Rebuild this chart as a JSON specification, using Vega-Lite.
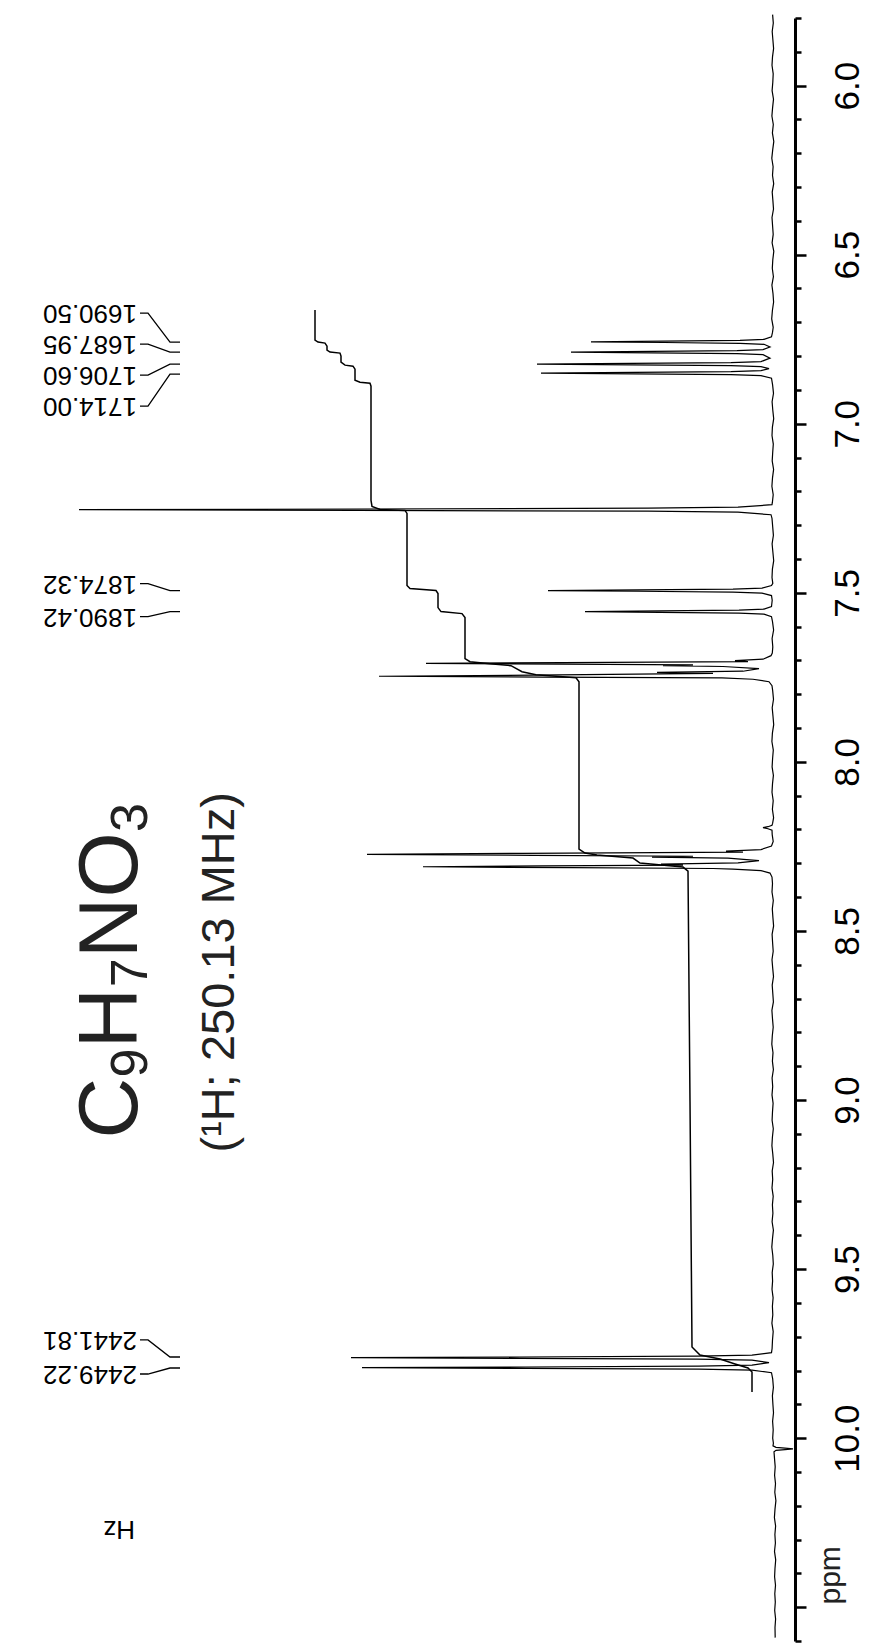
{
"$schema": "https://vega.github.io/schema/vega-lite/v6.json",
"width": 795, "height": 1623,
"autosize": {"type": "none"},
"padding": {"left": 0, "top": 18, "right": 76, "bottom": 2},
"background": "white",
"config": {"view": {"stroke": null}, "font": "Liberation Sans"},
"datasets": {
"spec": [
{"p":5.790,"i":0.4},{"p":5.815,"i":-0.3},{"p":5.840,"i":0.8},{"p":5.865,"i":0.1},{"p":5.890,"i":-0.6},{"p":5.915,"i":0.5},{"p":5.940,"i":1.0},{"p":5.965,"i":-0.2},{"p":5.990,"i":0.2},{"p":6.015,"i":0.9},{"p":6.040,"i":-0.5},{"p":6.065,"i":0.4},{"p":6.090,"i":1.1},{"p":6.115,"i":-0.3},{"p":6.140,"i":0.6},{"p":6.165,"i":-0.8},{"p":6.190,"i":0.3},{"p":6.215,"i":1.2},{"p":6.240,"i":-0.1},{"p":6.265,"i":0.5},{"p":6.290,"i":-0.7},{"p":6.315,"i":0.8},{"p":6.340,"i":0.1},{"p":6.365,"i":-0.5},{"p":6.390,"i":1.0},{"p":6.415,"i":0.4},{"p":6.440,"i":-0.2},{"p":6.465,"i":0.9},{"p":6.490,"i":-0.8},{"p":6.515,"i":0.2},{"p":6.540,"i":0.7},{"p":6.565,"i":-0.4},{"p":6.590,"i":1.1},{"p":6.615,"i":0.0},{"p":6.640,"i":-0.6},{"p":6.665,"i":0.6},{"p":6.690,"i":1.3},{"p":6.715,"i":-0.2},{"p":6.730,"i":0.5},
{"p":6.7428,"i":1.5},{"p":6.7502,"i":9},{"p":6.7532,"i":33},{"p":6.7555,"i":109},{"p":6.7576,"i":182},{"p":6.7597,"i":109},{"p":6.7620,"i":33},{"p":6.7650,"i":9},{"p":6.7729,"i":3},
{"p":6.7807,"i":10},{"p":6.7837,"i":36},{"p":6.7860,"i":121},{"p":6.7881,"i":202},{"p":6.7902,"i":121},{"p":6.7925,"i":36},{"p":6.7955,"i":10},{"p":6.8059,"i":3},
{"p":6.8163,"i":12},{"p":6.8193,"i":42},{"p":6.8216,"i":142},{"p":6.8237,"i":236},{"p":6.8258,"i":142},{"p":6.8281,"i":42},{"p":6.8311,"i":12},{"p":6.8370,"i":4},
{"p":6.8430,"i":12},{"p":6.8460,"i":42},{"p":6.8483,"i":139},{"p":6.8504,"i":232},{"p":6.8525,"i":139},{"p":6.8548,"i":42},{"p":6.8578,"i":12},{"p":6.8652,"i":1.5},
{"p":6.885,"i":0.4},{"p":6.910,"i":-0.5},{"p":6.935,"i":0.9},{"p":6.960,"i":0.2},{"p":6.985,"i":-0.7},{"p":7.010,"i":0.6},{"p":7.035,"i":1.0},{"p":7.060,"i":-0.3},{"p":7.085,"i":0.3},{"p":7.110,"i":0.8},{"p":7.135,"i":-0.6},{"p":7.160,"i":0.5},{"p":7.185,"i":1.1},{"p":7.210,"i":-0.2},{"p":7.232,"i":0.6},
{"p":7.2394,"i":1},{"p":7.2468,"i":35},{"p":7.2498,"i":125},{"p":7.2521,"i":416},{"p":7.2542,"i":694},{"p":7.2563,"i":416},{"p":7.2586,"i":125},{"p":7.2616,"i":35},{"p":7.2690,"i":2},
{"p":7.280,"i":1.0},{"p":7.305,"i":0.3},{"p":7.330,"i":-0.4},{"p":7.355,"i":0.9},{"p":7.380,"i":0.1},{"p":7.405,"i":-0.7},{"p":7.430,"i":0.6},{"p":7.455,"i":1.0},{"p":7.472,"i":0.2},
{"p":7.4785,"i":1.5},{"p":7.4859,"i":11},{"p":7.4889,"i":40},{"p":7.4912,"i":135},{"p":7.4933,"i":225},{"p":7.4954,"i":135},{"p":7.4977,"i":40},{"p":7.5007,"i":11},{"p":7.5081,"i":1.5},
{"p":7.522,"i":0.8},
{"p":7.5408,"i":1.5},{"p":7.5482,"i":9},{"p":7.5512,"i":34},{"p":7.5535,"i":113},{"p":7.5556,"i":188},{"p":7.5577,"i":113},{"p":7.5600,"i":34},{"p":7.5630,"i":9},{"p":7.5704,"i":1.5},
{"p":7.585,"i":0.5},{"p":7.610,"i":-0.6},{"p":7.635,"i":0.9},{"p":7.660,"i":0.2},{"p":7.678,"i":0.7},
{"p":7.6859,"i":2},{"p":7.6963,"i":10},{"p":7.7007,"i":38},{"p":7.7037,"i":25},{"p":7.7067,"i":210},{"p":7.7087,"i":347},{"p":7.7108,"i":210},{"p":7.7132,"i":80},{"p":7.7156,"i":110},{"p":7.7179,"i":50},{"p":7.7244,"i":14},{"p":7.7319,"i":30},{"p":7.7351,"i":116},{"p":7.7381,"i":60},{"p":7.7437,"i":240},{"p":7.7467,"i":394},{"p":7.7493,"i":230},{"p":7.7517,"i":51},{"p":7.7556,"i":20},{"p":7.7630,"i":4},{"p":7.7748,"i":1},
{"p":7.790,"i":0.3},{"p":7.815,"i":-0.5},{"p":7.840,"i":0.8},{"p":7.865,"i":0.0},{"p":7.890,"i":-0.7},{"p":7.915,"i":0.6},{"p":7.940,"i":1.1},{"p":7.965,"i":-0.3},{"p":7.990,"i":0.4},{"p":8.015,"i":0.9},{"p":8.040,"i":-0.4},{"p":8.065,"i":0.5},{"p":8.090,"i":1.0},{"p":8.115,"i":-0.2},{"p":8.140,"i":0.6},{"p":8.165,"i":-0.6},{"p":8.182,"i":0.4},
{"p":8.1873,"i":1},{"p":8.1917,"i":5},{"p":8.1947,"i":10},{"p":8.1977,"i":5},{"p":8.2021,"i":1},
{"p":8.215,"i":0.8},{"p":8.235,"i":-0.2},
{"p":8.2489,"i":1.5},{"p":8.2593,"i":12},{"p":8.2637,"i":47},{"p":8.2667,"i":30},{"p":8.2705,"i":250},{"p":8.2735,"i":406},{"p":8.2764,"i":240},{"p":8.2791,"i":80},{"p":8.2815,"i":121},{"p":8.2844,"i":45},{"p":8.2919,"i":14},{"p":8.2987,"i":35},{"p":8.3022,"i":112},{"p":8.3052,"i":90},{"p":8.3076,"i":230},{"p":8.3102,"i":350},{"p":8.3129,"i":200},{"p":8.3153,"i":60},{"p":8.3170,"i":40},{"p":8.3215,"i":12},{"p":8.3289,"i":3},{"p":8.3407,"i":1},
{"p":8.360,"i":0.5},{"p":8.385,"i":1.0},{"p":8.410,"i":-0.3},{"p":8.435,"i":0.7},{"p":8.460,"i":0.1},{"p":8.485,"i":-0.6},{"p":8.510,"i":0.9},{"p":8.535,"i":0.4},{"p":8.560,"i":-0.2},{"p":8.585,"i":1.0},{"p":8.610,"i":0.3},{"p":8.635,"i":-0.5},{"p":8.660,"i":0.8},{"p":8.685,"i":0.2},{"p":8.710,"i":-0.4},{"p":8.735,"i":1.1},{"p":8.760,"i":0.5},{"p":8.785,"i":-0.2},{"p":8.810,"i":0.7},{"p":8.835,"i":1.2},{"p":8.860,"i":0.0},{"p":8.885,"i":0.6},{"p":8.910,"i":-0.4},{"p":8.935,"i":0.9},{"p":8.960,"i":0.3},{"p":8.985,"i":1.0},{"p":9.010,"i":-0.1},{"p":9.035,"i":0.5},{"p":9.060,"i":0.9},{"p":9.085,"i":-0.3},{"p":9.110,"i":0.6},{"p":9.135,"i":1.1},{"p":9.160,"i":0.2},{"p":9.185,"i":-0.5},{"p":9.210,"i":0.8},{"p":9.235,"i":0.3},{"p":9.260,"i":1.0},{"p":9.285,"i":-0.2},{"p":9.310,"i":0.6},{"p":9.335,"i":0.1},{"p":9.360,"i":0.9},{"p":9.385,"i":-0.4},{"p":9.410,"i":0.5},{"p":9.435,"i":1.2},{"p":9.460,"i":0.2},{"p":9.485,"i":-0.3},{"p":9.510,"i":0.8},{"p":9.535,"i":0.4},{"p":9.560,"i":1.0},{"p":9.585,"i":-0.1},{"p":9.610,"i":0.6},{"p":9.635,"i":0.2},{"p":9.660,"i":1.1},{"p":9.685,"i":-0.2},{"p":9.710,"i":0.5},{"p":9.735,"i":0.9},
{"p":9.7473,"i":1.5},{"p":9.7547,"i":21},{"p":9.7577,"i":76},{"p":9.7600,"i":253},{"p":9.7621,"i":422},{"p":9.7642,"i":253},{"p":9.7665,"i":76},{"p":9.7695,"i":21},{"p":9.7769,"i":4},{"p":9.7843,"i":21},{"p":9.7873,"i":74},{"p":9.7896,"i":247},{"p":9.7917,"i":411},{"p":9.7938,"i":247},{"p":9.7961,"i":74},{"p":9.7991,"i":21},{"p":9.8065,"i":1.5},
{"p":9.825,"i":0.3},{"p":9.850,"i":-0.4},{"p":9.875,"i":0.6},{"p":9.900,"i":0.1},{"p":9.925,"i":-0.5},{"p":9.950,"i":0.4},{"p":9.975,"i":-0.2},{"p":10.000,"i":0.3},{"p":10.015,"i":-0.4},
{"p":10.0229,"i":0},{"p":10.0273,"i":-3},{"p":10.0296,"i":-12},{"p":10.0317,"i":-20},{"p":10.0338,"i":-12},{"p":10.0361,"i":-3},{"p":10.0405,"i":-1},
{"p":10.060,"i":-1.5},{"p":10.085,"i":-2.2},{"p":10.110,"i":-1.6},{"p":10.135,"i":-2.5},{"p":10.160,"i":-1.8},{"p":10.185,"i":-2.9},{"p":10.210,"i":-2.0},{"p":10.235,"i":-1.4},{"p":10.260,"i":-2.6},{"p":10.285,"i":-1.9},{"p":10.310,"i":-2.4},{"p":10.335,"i":-1.5},{"p":10.360,"i":-2.7},{"p":10.385,"i":-2.0},{"p":10.410,"i":-1.6},{"p":10.435,"i":-2.5},{"p":10.460,"i":-1.8},{"p":10.485,"i":-2.3},{"p":10.510,"i":-1.7},{"p":10.535,"i":-2.6},{"p":10.560,"i":-2.0},{"p":10.590,"i":-2.2}
],
"integ": [
{"p":6.6637,"i":458},{"p":6.7526,"i":458},{"p":6.7585,"i":455},{"p":6.7615,"i":448},{"p":6.7704,"i":446},{"p":6.7822,"i":446},{"p":6.7881,"i":443},{"p":6.7911,"i":433},{"p":6.8000,"i":432},{"p":6.8178,"i":432},{"p":6.8267,"i":428},{"p":6.8296,"i":420},{"p":6.8385,"i":418},{"p":6.8711,"i":418},{"p":6.8770,"i":413},{"p":6.8800,"i":403},{"p":6.8889,"i":402},{"p":7.2267,"i":402},{"p":7.2444,"i":401},{"p":7.2533,"i":393},{"p":7.2563,"i":368},{"p":7.2652,"i":366},{"p":7.4785,"i":366},{"p":7.4874,"i":363},{"p":7.4933,"i":337},{"p":7.5022,"i":335},{"p":7.5437,"i":335},{"p":7.5556,"i":332},{"p":7.5615,"i":311},{"p":7.5733,"i":308},{"p":7.6948,"i":308},{"p":7.7037,"i":303},{"p":7.7096,"i":283},{"p":7.7156,"i":262},{"p":7.7333,"i":251},{"p":7.7422,"i":237},{"p":7.7511,"i":197},{"p":7.7630,"i":194},{"p":8.2578,"i":194},{"p":8.2696,"i":188},{"p":8.2756,"i":176},{"p":8.2844,"i":140},{"p":8.2993,"i":133},{"p":8.3111,"i":90},{"p":8.3230,"i":85},{"p":9.0044,"i":83},{"p":9.7304,"i":81},{"p":9.7541,"i":73},{"p":9.7659,"i":53},{"p":9.7807,"i":38},{"p":9.7926,"i":25},{"p":9.8044,"i":21},{"p":9.8637,"i":21}
],
"lead": [
{"g":1,"k":1,"i":633,"p":6.6726},{"g":1,"k":2,"i":625,"p":6.6726},{"g":1,"k":3,"i":603,"p":6.7585},{"g":1,"k":4,"i":593,"p":6.7585},
{"g":2,"k":1,"i":633,"p":6.7644},{"g":2,"k":2,"i":625,"p":6.7644},{"g":2,"k":3,"i":603,"p":6.7881},{"g":2,"k":4,"i":593,"p":6.7881},
{"g":3,"k":1,"i":633,"p":6.8563},{"g":3,"k":2,"i":625,"p":6.8563},{"g":3,"k":3,"i":603,"p":6.8237},{"g":3,"k":4,"i":593,"p":6.8237},
{"g":4,"k":1,"i":633,"p":6.9481},{"g":4,"k":2,"i":625,"p":6.9481},{"g":4,"k":3,"i":603,"p":6.8533},{"g":4,"k":4,"i":593,"p":6.8533},
{"g":5,"k":1,"i":633,"p":7.4726},{"g":5,"k":2,"i":625,"p":7.4726},{"g":5,"k":3,"i":603,"p":7.4933},{"g":5,"k":4,"i":593,"p":7.4933},
{"g":6,"k":1,"i":633,"p":7.5704},{"g":6,"k":2,"i":625,"p":7.5704},{"g":6,"k":3,"i":603,"p":7.5556},{"g":6,"k":4,"i":593,"p":7.5556},
{"g":7,"k":1,"i":633,"p":9.7096},{"g":7,"k":2,"i":625,"p":9.7096},{"g":7,"k":3,"i":603,"p":9.7600},{"g":7,"k":4,"i":593,"p":9.7600},
{"g":8,"k":1,"i":633,"p":9.8104},{"g":8,"k":2,"i":625,"p":9.8104},{"g":8,"k":3,"i":603,"p":9.7926},{"g":8,"k":4,"i":593,"p":9.7926}
],
"hz": [
{"t":"1690.50","i":636,"p":6.6726},{"t":"1687.95","i":636,"p":6.7644},{"t":"1706.60","i":636,"p":6.8563},{"t":"1714.00","i":636,"p":6.9481},
{"t":"1874.32","i":636,"p":7.4726},{"t":"1890.42","i":636,"p":7.5704},{"t":"2441.81","i":636,"p":9.7096},{"t":"2449.22","i":636,"p":9.8104},
{"t":"Hz","i":638,"p":10.2696}
],
"big": [{"t":"C","i":636,"p":9.1141},{"t":"H","i":636,"p":8.8474},{"t":"NO","i":636,"p":8.5807}],
"sub": [{"t":"9","i":626,"p":8.9333},{"t":"7","i":626,"p":8.6667},{"t":"3","i":626,"p":8.2074}],
"subtitle": [{"t":"(¹H; 250.13 MHz)","i":539,"p":8.6222}],
"unit": [{"t":"ppm","i":-67,"p":10.4059}]
},
"encoding": {
"x": {"field":"i","type":"quantitative","scale":{"domain":[-22,773],"reverse":true,"nice":false,"zero":false},"axis":null},
"y": {"field":"p","type":"quantitative","scale":{"domain":[5.8,10.6],"reverse":true,"nice":false,"zero":false},
"axis":{"orient":"right","title":null,"grid":false,
"values":[5.8,5.9,6.0,6.1,6.2,6.3,6.4,6.5,6.6,6.7,6.8,6.9,7.0,7.1,7.2,7.3,7.4,7.5,7.6,7.7,7.8,7.9,8.0,8.1,8.2,8.3,8.4,8.5,8.6,8.7,8.8,8.9,9.0,9.1,9.2,9.3,9.4,9.5,9.6,9.7,9.8,9.9,10.0,10.1,10.2,10.3,10.4,10.5,10.6],
"domainColor":"black","domainWidth":3,"tickColor":"black","tickWidth":2.5,
"tickSize":{"condition":{"test":"abs(datum.value*2 - round(datum.value*2)) < 0.001","value":11},"value":6},
"labelExpr":"(abs(datum.value*2 - round(datum.value*2)) < 0.001 && datum.value < 10.3) ? format(datum.value, '.1f') : ''",
"labelAngle":270,"labelAlign":"center","labelBaseline":"top","labelFont":"Liberation Sans","labelFontSize":35,"labelColor":"black",
"labelPadding":24,"labelOverlap":false,"labelBound":false,"labelFlush":false}}
},
"layer": [
{"data":{"name":"spec"},"mark":{"type":"line","color":"black","strokeWidth":1.2},"encoding":{"order":{"field":"p","type":"quantitative"}}},
{"data":{"name":"integ"},"mark":{"type":"line","color":"black","strokeWidth":1.5},"encoding":{"order":{"field":"p","type":"quantitative"}}},
{"data":{"name":"lead"},"mark":{"type":"line","color":"black","strokeWidth":1.3},"encoding":{"detail":{"field":"g","type":"nominal"},"order":{"field":"k","type":"quantitative"}}},
{"data":{"name":"hz"},"mark":{"type":"text","angle":180,"align":"left","baseline":"middle","fontSize":26,"font":"Liberation Sans","color":"black"},"encoding":{"text":{"field":"t"}}},
{"data":{"name":"big"},"mark":{"type":"text","angle":270,"align":"left","baseline":"alphabetic","fontSize":84,"font":"Liberation Sans","color":"#222"},"encoding":{"text":{"field":"t"}}},
{"data":{"name":"sub"},"mark":{"type":"text","angle":270,"align":"left","baseline":"alphabetic","fontSize":52,"font":"Liberation Sans","color":"#222"},"encoding":{"text":{"field":"t"}}},
{"data":{"name":"subtitle"},"mark":{"type":"text","angle":270,"align":"center","baseline":"alphabetic","fontSize":47,"font":"Liberation Sans","color":"#222"},"encoding":{"text":{"field":"t"}}},
{"data":{"name":"unit"},"mark":{"type":"text","angle":270,"align":"center","baseline":"alphabetic","fontSize":30,"font":"Liberation Sans","color":"#222"},"encoding":{"text":{"field":"t"}}}
]
}
